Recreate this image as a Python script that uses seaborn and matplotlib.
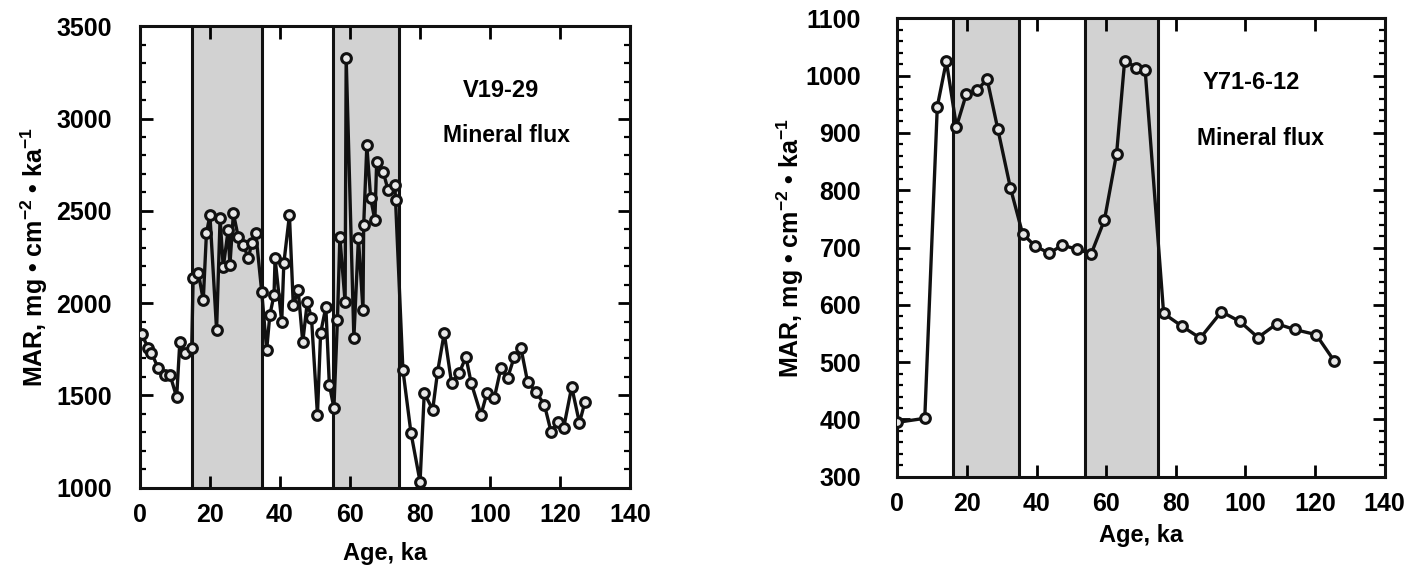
import numpy as np
import pandas as pd
import seaborn as sns
import matplotlib.pyplot as plt
from matplotlib.ticker import MultipleLocator

# V19-29 mineral flux (age ka, MAR)
v19_age = [0.5, 2.4, 3.3, 5.2, 7.1, 8.6, 10.5, 11.4, 12.9, 14.8, 15.2, 16.7, 18.1, 19.0, 20.0,
           21.9, 22.9, 23.8, 25.2, 25.7, 26.7, 28.1, 29.5, 31.0, 31.9, 33.1, 34.8, 36.2, 37.1,
           38.3, 38.6, 40.5, 41.1, 42.7, 43.8, 45.2, 46.5, 47.8, 49.0, 50.7, 51.6, 53.1, 54.1,
           55.4, 56.4, 57.1, 58.6, 58.9, 61.1, 62.4, 63.7, 63.9, 64.8, 65.9, 67.1, 67.6, 69.5,
           70.9, 72.8, 73.0, 75.1, 77.4, 80.0, 81.2, 83.6, 85.0, 86.9, 89.0, 91.2, 93.1, 94.6,
           97.4, 99.1, 101.2, 103.1, 105.0, 106.9, 108.8, 110.7, 113.1, 115.5, 117.4, 119.3,
           121.0, 123.3, 125.5, 127.1]
v19_mar = [1830, 1757, 1730, 1649, 1611, 1611, 1490, 1789, 1730, 1757, 2135, 2162, 2016, 2378, 2476,
           1854, 2459, 2194, 2395, 2205, 2486, 2357, 2314, 2243, 2324, 2378, 2059, 1746, 1935,
           2043, 2243, 1897, 2216, 2476, 1989, 2070, 1789, 2005, 1919, 1395, 1838, 1978, 1557,
           1432, 1908, 2357, 2005, 3330, 1811, 2351, 1962, 2421, 2854, 2567, 2449, 2762, 2708,
           2611, 2638, 2557, 1638, 1297, 1032, 1513, 1422, 1627, 1838, 1567, 1622, 1708, 1567,
           1395, 1513, 1486, 1649, 1595, 1708, 1757, 1573, 1519, 1449, 1303, 1357,
           1324, 1546, 1351, 1465]

# Y71-6-12 mineral flux
y71_age = [0.0, 7.9, 11.5, 14.1, 17.0, 19.8, 22.9, 25.8, 28.9, 32.5, 36.0, 39.5, 43.6, 47.4,
           51.7, 55.7, 59.5, 63.0, 65.3, 68.7, 71.2, 76.5, 81.7, 87.0, 93.1, 98.4, 103.6,
           109.0, 114.1, 120.3, 125.5]
y71_mar = [395, 402, 946, 1025, 911, 967, 974, 994, 906, 804, 724, 703, 690, 704,
           697, 689, 748, 864, 1026, 1014, 1009, 585, 563, 542, 588, 571, 543,
           567, 557, 548, 502]

v19_bands = [(15, 35), (55, 74)]
y71_bands = [(16, 35), (54, 75)]

sns.set_style("ticks")
plt.rcParams['font.family'] = ['Liberation Sans', 'DejaVu Sans']
plt.rcParams['font.weight'] = 'bold'
plt.rcParams['axes.labelweight'] = 'bold'
plt.rcParams['mathtext.fontset'] = 'custom'
plt.rcParams['mathtext.rm'] = 'Liberation Sans:bold'
plt.rcParams['mathtext.it'] = 'Liberation Sans:bold:italic'
plt.rcParams['mathtext.bf'] = 'Liberation Sans:bold'
plt.rcParams['text.color'] = 'black'
plt.rcParams['axes.labelcolor'] = 'black'
plt.rcParams['xtick.color'] = 'black'
plt.rcParams['ytick.color'] = 'black'

fig = plt.figure(figsize=(14.13, 5.71), dpi=100)
ax1 = fig.add_axes([0.099, 0.146, 0.347, 0.808])
ax2 = fig.add_axes([0.635, 0.165, 0.345, 0.803])

ylabel = 'MAR, mg \u2022 cm$^{-2}$ \u2022 ka$^{-1}$'
panels = [
    (ax1, v19_age, v19_mar, v19_bands, (1000, 3500), 500, 100, 'V19-29',
     (103.0, 3150), (104.6, 2910), 20, 5, 11),
    (ax2, y71_age, y71_mar, y71_bands, (300, 1100), 100, 20, 'Y71-6-12',
     (101.7, 988), (104.3, 890), 26, 0, 6),
]

for ax, age, mar, bands, ylim, major, minor, name, p1, p2, ypad, ylpad, xlpad in panels:
    for a, b in bands:
        ax.axvspan(a, b, facecolor='#d2d2d2', edgecolor='none', zorder=0)
        ax.axvline(a, color='#111111', lw=2.2, zorder=1)
        ax.axvline(b, color='#111111', lw=2.2, zorder=1)
    df = pd.DataFrame({'age': age, 'mar': mar})
    sns.lineplot(data=df, x='age', y='mar', ax=ax, estimator=None, sort=False,
                 color='#111111', lw=2.4, marker='o', markersize=7,
                 markerfacecolor='#e8e8e8', markeredgecolor='#111111', markeredgewidth=2.2,
                 zorder=3)
    ax.set_xlim(0, 140)
    ax.set_ylim(*ylim)
    ax.xaxis.set_major_locator(MultipleLocator(20))
    ax.yaxis.set_major_locator(MultipleLocator(major))
    ax.yaxis.set_minor_locator(MultipleLocator(minor))
    ax.tick_params(which='major', direction='in', length=9, width=2.0,
                   top=True, right=True, labelsize=18)
    ax.tick_params(axis='x', which='major', pad=11)
    ax.tick_params(axis='y', which='major', pad=ypad)
    ax.tick_params(which='minor', direction='in', length=4.5, width=1.6,
                   left=True, right=True)
    ax.tick_params(axis='x', which='minor', bottom=False, top=False)
    for s in ax.spines.values():
        s.set_linewidth(2.2)
        s.set_color('#111111')
    ax.set_xlabel('Age, ka', fontsize=17, labelpad=xlpad)
    ax.set_ylabel(ylabel, fontsize=18, labelpad=ylpad)
    ax.text(p1[0], p1[1], name, fontsize=17, ha='center', va='center')
    ax.text(p2[0], p2[1], 'Mineral flux', fontsize=16.5, ha='center', va='center')

fig.savefig('out.png', dpi=100)
